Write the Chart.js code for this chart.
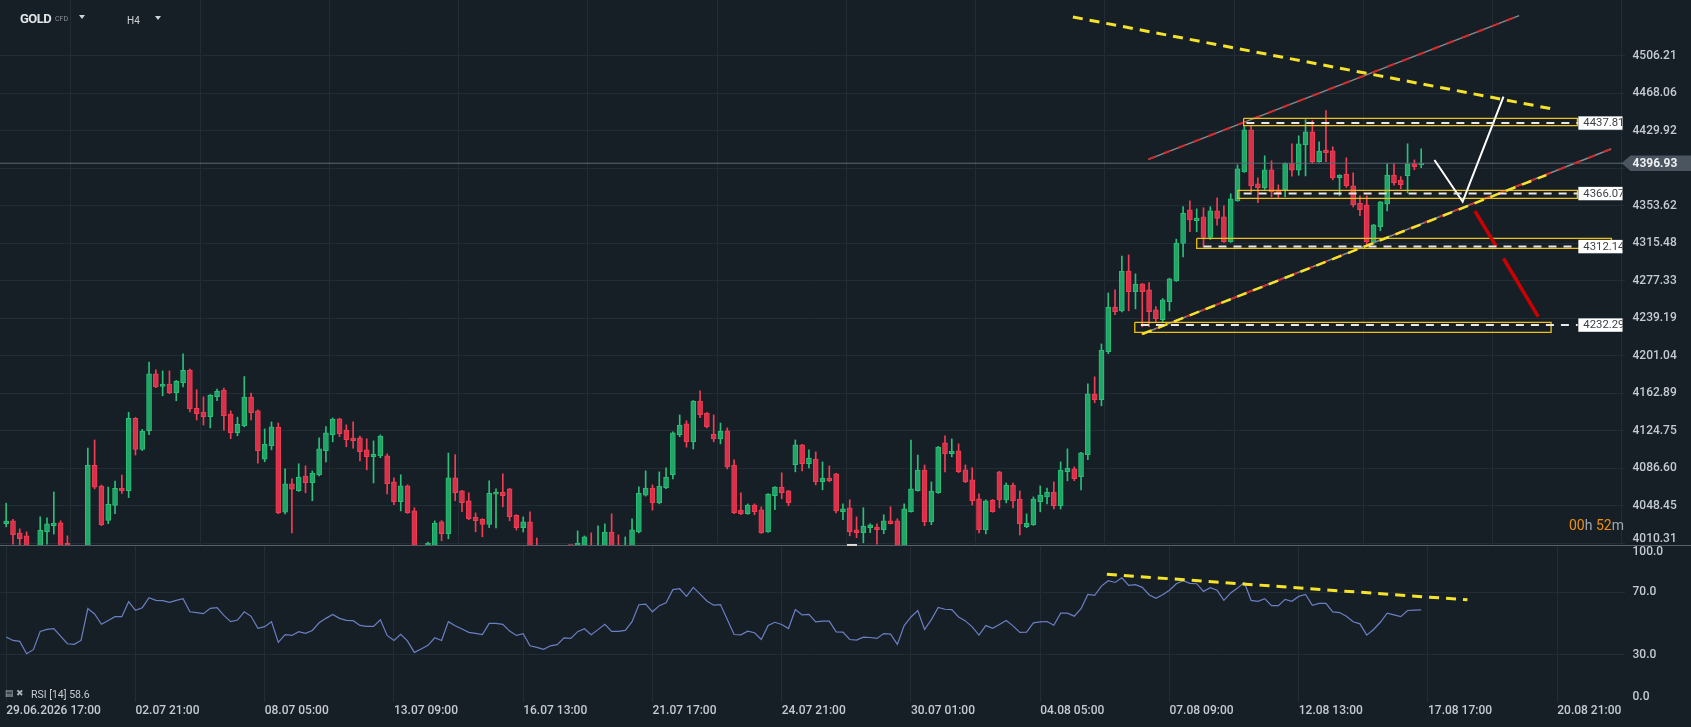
<!DOCTYPE html>
<html>
<head>
<meta charset="utf-8">
<title>GOLD H4</title>
<script src="https://cdn.jsdelivr.net/npm/chart.js@4.4.1/dist/chart.umd.min.js"></script>
<style>
  html, body { margin: 0; padding: 0; background: #171f26; }
  #wrap { position: relative; width: 1691px; height: 727px; overflow: hidden; background: #171f26; font-family: Roboto, 'Noto Sans', sans-serif; }
  canvas { position: absolute; left: 0; }
  #priceCanvas { top: 0; }
  #rsiCanvas { top: 545px; }
  .txt { position: absolute; white-space: nowrap; line-height: 1; }
  .tri { position: absolute; width: 0; height: 0; border-left: 3.5px solid transparent; border-right: 3.5px solid transparent; border-top: 4px solid #d0d4d8; }
  #divider { position: absolute; left: 0; top: 545px; width: 1691px; height: 1px; background: #56606a; }
  #marker { position: absolute; left: 847px; top: 544px; width: 10px; height: 2px; background: #d8d8d8; }
</style>
</head>
<body>
<div id="wrap">
  <canvas id="priceCanvas" width="1691" height="546"></canvas>
  <canvas id="rsiCanvas" width="1691" height="182"></canvas>
  <div id="divider"></div>
  <div id="marker"></div>
  <div class="txt" style="left:20px;top:12px;font-size:13px;font-weight:700;letter-spacing:-0.5px;color:#e1e4e7;">GOLD</div>
  <div class="txt" style="left:55px;top:16px;font-size:7px;color:#8b939a;">CFD</div>
  <div class="tri" style="left:79px;top:15px;"></div>
  <div class="txt" style="left:127px;top:16px;font-size:10px;color:#d0d4d8;">H4</div>
  <div class="tri" style="left:155px;top:16px;"></div>
  <div class="txt" style="left:1569px;top:518px;font-size:14px;color:#a0a6ac;"><span style="color:#ef8f0f">00</span>h <span style="color:#ef8f0f">52</span>m</div>
  <div class="txt" style="left:5px;top:689px;font-size:9px;color:#aab0b6;">&#9636; &#10006;</div>
  <div class="txt" style="left:31px;top:690px;font-size:10.5px;color:#c8cdd2;">RSI [14] 58.6</div>
</div>
<script>
// Candles (H4), index = bar number from 29.06.2026 17:00
const opens = [
  4030.2, 4033.1, 4020.9, 4017.9, 4000.2, 4003.1, 4022.1, 4028.2, 4031.1, 4010.2,
  4005.2, 3998.2, 4001.2, 4089.6, 4068.6, 4033.7, 4048.9, 4066.3, 4063.9, 4137.4,
  4105.9, 4124.9, 4182.6, 4170.0, 4172.4, 4163.5, 4173.7, 4186.5, 4147.7, 4143.9,
  4139.0, 4159.5, 4166.2, 4141.7, 4122.9, 4129.9, 4159.0, 4145.1, 4095.9, 4109.5,
  4128.6, 4041.9, 4070.8, 4063.8, 4078.8, 4072.0, 4080.0, 4104.5, 4120.7, 4136.9,
  4125.6, 4117.4, 4117.5, 4105.3, 4098.4, 4099.3, 4099.3, 4072.8, 4052.6, 4068.8,
  4043.4, 4003.2, 4005.1, 4008.0, 4032.1, 4020.1, 4076.9, 4063.6, 4053.5, 4037.1,
  4034.7, 4029.4, 4060.2, 4062.2, 4065.8, 4038.8, 4026.3, 4032.1, 4004.1, 4000.2,
  3997.2, 4001.2, 4003.2, 4006.2, 4007.1, 4007.1, 4007.1, 4001.1, 4005.1, 4021.8,
  4005.1, 4003.1, 4007.1, 4021.8, 4059.3, 4066.6, 4051.4, 4066.7, 4080.1, 4120.7,
  4131.8, 4113.7, 4155.1, 4142.9, 4121.4, 4116.6, 4124.7, 4089.9, 4044.2, 4040.4,
  4049.3, 4044.3, 4022.0, 4058.7, 4067.6, 4063.6, 4090.2, 4110.4, 4091.2, 4096.1,
  4072.9, 4076.7, 4081.0, 4042.5, 4046.4, 4023.9, 4021.1, 4026.3, 4026.9, 4024.2,
  4033.1, 4033.2, 4007.1, 4042.6, 4063.9, 4084.9, 4032.3, 4061.8, 4112.5, 4101.4,
  4104.3, 4085.0, 4074.9, 4055.5, 4024.0, 4054.4, 4083.0, 4054.5, 4069.6, 4055.4,
  4027.2, 4029.0, 4052.6, 4057.4, 4062.5, 4048.3, 4083.1, 4086.0, 4078.0, 4100.5,
  4162.2, 4156.4, 4205.2, 4250.7, 4246.8, 4287.3, 4266.3, 4274.2, 4268.2, 4247.7,
  4237.7, 4256.0, 4277.3, 4315.3, 4349.5, 4338.5, 4342.4, 4321.5, 4348.4, 4342.4,
  4317.0, 4358.7, 4388.2, 4431.0, 4375.9, 4371.9, 4390.2, 4369.7, 4369.5, 4396.7,
  4389.9, 4415.9, 4428.9, 4398.4, 4410.4, 4409.5, 4382.3, 4386.0, 4373.9, 4356.5,
  4354.6, 4317.0, 4332.3, 4355.6, 4384.9, 4379.9, 4384.2, 4396.2, 4395.1
];
const highs = [
  4051.1, 4034.8, 4025.0, 4022.0, 4005.2, 4037.3, 4036.2, 4062.5, 4033.2, 4017.9,
  4007.2, 4007.2, 4107.2, 4115.4, 4069.6, 4067.5, 4073.7, 4079.8, 4143.6, 4138.3,
  4126.2, 4194.7, 4186.7, 4185.7, 4185.7, 4176.0, 4203.1, 4187.5, 4166.5, 4159.3,
  4161.7, 4167.3, 4168.2, 4145.1, 4138.6, 4179.9, 4163.1, 4146.0, 4126.7, 4133.8,
  4132.7, 4086.1, 4076.0, 4091.2, 4089.1, 4084.0, 4117.7, 4129.1, 4137.8, 4137.5,
  4130.8, 4133.8, 4119.5, 4116.6, 4114.5, 4120.6, 4101.3, 4076.9, 4080.0, 4069.8,
  4046.5, 4007.2, 4011.6, 4033.1, 4033.4, 4102.2, 4100.5, 4064.2, 4061.7, 4041.2,
  4035.4, 4073.9, 4065.7, 4081.0, 4066.3, 4039.4, 4037.2, 4042.4, 4015.7, 4006.2,
  4005.2, 4006.2, 4007.2, 4007.2, 4022.9, 4017.8, 4020.9, 4028.1, 4030.0, 4040.3,
  4018.8, 4016.8, 4035.2, 4067.7, 4084.0, 4069.7, 4083.0, 4087.0, 4123.6, 4140.9,
  4134.9, 4155.6, 4165.4, 4143.4, 4140.9, 4132.7, 4127.8, 4095.1, 4061.7, 4050.4,
  4050.4, 4047.4, 4061.0, 4068.1, 4082.0, 4064.1, 4115.5, 4111.0, 4105.3, 4103.3,
  4093.1, 4089.0, 4081.6, 4050.4, 4054.6, 4037.2, 4046.5, 4030.0, 4030.0, 4039.3,
  4047.5, 4035.3, 4050.5, 4115.4, 4100.1, 4089.9, 4072.8, 4108.8, 4119.6, 4116.5,
  4111.5, 4090.1, 4087.2, 4060.7, 4054.5, 4054.9, 4083.5, 4071.7, 4071.7, 4063.6,
  4040.2, 4057.5, 4068.7, 4066.6, 4072.8, 4093.1, 4106.4, 4088.0, 4102.8, 4172.6,
  4179.7, 4213.1, 4265.0, 4268.2, 4302.6, 4303.6, 4284.4, 4274.6, 4275.4, 4251.2,
  4259.3, 4280.0, 4319.7, 4352.9, 4358.7, 4350.5, 4351.6, 4352.7, 4361.7, 4353.7,
  4365.9, 4395.3, 4434.4, 4435.1, 4382.1, 4404.5, 4399.4, 4374.9, 4397.4, 4416.6,
  4424.8, 4441.3, 4440.2, 4418.7, 4450.5, 4413.6, 4385.3, 4402.4, 4387.2, 4363.7,
  4363.9, 4334.7, 4358.1, 4396.4, 4396.3, 4383.3, 4416.7, 4400.3, 4411.6
];
const lows = [
  4027.1, 4009.5, 4005.1, 3994.2, 3992.2, 3999.1, 4009.5, 4019.7, 3999.1, 4000.2,
  3994.2, 3992.2, 3998.2, 4065.6, 4028.2, 4030.3, 4040.4, 4061.1, 4056.8, 4100.1,
  4104.7, 4120.8, 4168.5, 4160.4, 4162.5, 4155.3, 4169.5, 4144.0, 4135.7, 4130.6,
  4127.7, 4155.4, 4125.4, 4116.7, 4119.8, 4128.8, 4135.7, 4091.7, 4093.2, 4105.4,
  4040.3, 4040.2, 4020.9, 4063.0, 4061.7, 4053.6, 4078.8, 4093.2, 4113.5, 4118.8,
  4108.5, 4107.1, 4094.2, 4085.0, 4071.7, 4097.3, 4060.6, 4049.5, 4043.3, 4040.7,
  3996.2, 3994.2, 4000.1, 4003.0, 4012.9, 4014.9, 4053.6, 4042.4, 4034.3, 4022.0,
  4016.9, 4026.3, 4026.0, 4047.4, 4033.2, 4023.8, 4021.8, 3999.0, 3992.1, 3989.2,
  3990.2, 3994.2, 3998.2, 3999.2, 4002.1, 4003.1, 3998.1, 3999.1, 4002.1, 4001.1,
  3998.1, 3999.1, 4004.1, 4020.8, 4058.3, 4044.0, 4050.5, 4065.9, 4075.7, 4118.7,
  4108.1, 4106.2, 4138.0, 4127.8, 4113.5, 4111.5, 4086.0, 4040.4, 4039.4, 4039.8,
  4039.4, 4020.4, 4021.4, 4044.4, 4055.6, 4048.5, 4083.0, 4084.0, 4087.1, 4069.7,
  4064.7, 4072.9, 4041.3, 4034.3, 4017.9, 4016.0, 4010.8, 4021.1, 4009.5, 4020.1,
  4030.0, 4002.1, 4004.1, 4041.9, 4063.4, 4028.2, 4029.2, 4061.1, 4083.0, 4098.3,
  4082.1, 4072.0, 4049.2, 4020.9, 4019.9, 4041.9, 4046.3, 4051.4, 4046.3, 4018.8,
  4026.2, 4028.5, 4042.3, 4050.5, 4045.4, 4045.2, 4073.9, 4074.0, 4064.6, 4095.3,
  4153.3, 4150.2, 4203.2, 4242.8, 4245.8, 4246.8, 4248.8, 4230.6, 4230.6, 4235.7,
  4235.6, 4246.7, 4276.7, 4301.6, 4327.2, 4327.2, 4311.9, 4319.4, 4334.0, 4316.4,
  4316.4, 4358.2, 4387.7, 4367.7, 4356.7, 4370.2, 4362.8, 4361.9, 4362.7, 4383.7,
  4384.7, 4384.0, 4396.7, 4397.9, 4398.4, 4380.0, 4363.8, 4372.3, 4352.6, 4343.5,
  4311.8, 4314.6, 4328.2, 4348.4, 4374.7, 4371.0, 4366.7, 4390.3, 4392.4
];
const closes = [
  4032.9, 4019.1, 4015.0, 4000.2, 4003.2, 4023.6, 4030.0, 4030.9, 4004.1, 4005.2,
  3998.2, 4001.2, 4089.6, 4067.3, 4029.2, 4049.9, 4066.3, 4063.9, 4137.4, 4105.9,
  4124.3, 4182.6, 4169.5, 4172.4, 4163.5, 4175.1, 4186.3, 4147.1, 4142.2, 4139.1,
  4160.9, 4164.9, 4140.1, 4122.9, 4131.4, 4159.0, 4143.2, 4104.6, 4111.3, 4128.7,
  4041.5, 4070.7, 4065.3, 4077.8, 4072.0, 4081.6, 4106.4, 4122.6, 4136.8, 4121.8,
  4115.7, 4114.6, 4103.4, 4098.4, 4100.8, 4119.5, 4070.9, 4052.6, 4068.7, 4041.4,
  4004.0, 4005.2, 4010.6, 4031.0, 4020.1, 4076.8, 4061.8, 4051.6, 4035.3, 4033.3,
  4029.4, 4061.2, 4062.3, 4058.7, 4037.4, 4026.2, 4032.1, 4004.0, 4000.1, 3997.2,
  4001.2, 4003.2, 4006.2, 4005.2, 4010.6, 4016.8, 4002.1, 4007.1, 4021.8, 4004.1,
  4003.1, 4007.1, 4023.9, 4061.2, 4066.5, 4051.5, 4068.6, 4077.7, 4122.6, 4130.6,
  4113.6, 4155.1, 4141.1, 4128.8, 4116.6, 4124.5, 4088.0, 4041.5, 4040.4, 4049.3,
  4042.5, 4021.0, 4060.5, 4067.6, 4061.8, 4051.6, 4110.4, 4091.2, 4097.0, 4072.8,
  4076.7, 4073.9, 4043.3, 4045.3, 4022.0, 4021.1, 4027.9, 4029.0, 4024.2, 4033.1,
  4030.4, 4006.1, 4045.4, 4065.6, 4084.9, 4032.3, 4063.5, 4108.3, 4101.5, 4104.1,
  4083.1, 4073.0, 4053.6, 4024.0, 4053.5, 4042.4, 4054.5, 4069.6, 4053.5, 4030.1,
  4031.0, 4055.4, 4059.4, 4062.5, 4048.5, 4084.9, 4086.9, 4076.0, 4102.3, 4162.3,
  4156.4, 4206.9, 4250.6, 4245.9, 4287.3, 4266.3, 4274.1, 4266.4, 4245.9, 4238.8,
  4257.9, 4279.3, 4315.6, 4345.9, 4339.2, 4341.2, 4321.5, 4348.6, 4340.8, 4317.0,
  4360.8, 4391.2, 4431.0, 4373.9, 4372.1, 4390.1, 4367.9, 4367.0, 4396.9, 4389.9,
  4416.6, 4428.9, 4398.4, 4409.4, 4407.7, 4382.1, 4385.0, 4374.0, 4354.7, 4349.6,
  4316.9, 4334.2, 4357.6, 4385.0, 4377.1, 4375.1, 4396.2, 4393.4, 4396.93
];
const rsiValues = [
  41.3, 39.1, 38.5, 30.6, 33.2, 44.9, 46.2, 46.6, 41.9, 37.0,
  36.6, 39.1, 59.4, 56.0, 49.4, 51.9, 54.3, 54.3, 63.8, 58.3,
  60.0, 66.4, 64.7, 64.5, 63.4, 64.7, 65.7, 57.4, 56.8, 56.2,
  59.6, 60.0, 55.1, 51.1, 52.1, 57.4, 54.5, 46.8, 47.9, 51.1,
  37.9, 42.8, 42.3, 44.7, 43.6, 45.5, 50.4, 53.2, 55.7, 53.2,
  51.9, 51.7, 48.7, 48.1, 48.1, 52.3, 42.3, 39.1, 43.0, 38.7,
  31.5, 33.6, 36.0, 40.8, 39.1, 51.1, 48.5, 46.4, 44.3, 43.6,
  42.8, 50.0, 50.0, 49.4, 45.1, 42.3, 43.4, 35.7, 34.7, 33.4,
  35.7, 36.4, 40.8, 40.4, 44.7, 46.6, 42.8, 46.0, 49.4, 44.9,
  44.9, 45.5, 51.1, 61.9, 62.3, 57.4, 61.3, 63.2, 71.5, 72.1,
  67.2, 73.0, 68.7, 64.3, 61.6, 62.0, 52.4, 42.9, 42.7, 45.0,
  44.0, 39.7, 48.6, 50.7, 49.3, 46.7, 58.8, 55.4, 55.8, 51.0,
  51.4, 51.4, 44.6, 44.4, 39.7, 39.3, 41.2, 41.0, 40.4, 43.5,
  43.1, 36.6, 48.6, 54.1, 58.2, 46.1, 52.4, 60.1, 59.0, 58.8,
  54.1, 51.6, 47.8, 42.5, 48.6, 46.9, 49.3, 51.8, 48.4, 44.2,
  44.4, 50.3, 51.0, 51.2, 48.8, 56.5, 56.5, 54.6, 59.4, 68.5,
  67.9, 73.8, 77.2, 76.1, 79.1, 74.2, 74.7, 73.0, 68.3, 66.0,
  68.3, 71.1, 75.3, 77.2, 75.5, 75.3, 70.4, 72.8, 71.1, 64.7,
  69.4, 72.5, 76.1, 64.7, 64.1, 65.8, 61.3, 61.3, 65.3, 64.1,
  67.2, 68.5, 61.5, 62.8, 62.8, 57.3, 56.9, 54.6, 51.0, 49.7,
  42.5, 46.1, 50.7, 56.5, 55.4, 54.3, 58.2, 58.4, 58.6
];

// Axes
const dateTickBars = [0, 19, 38, 57, 76, 95, 114, 133, 152, 171, 190, 209, 228];
const dateLabels = ['29.06.2026 17:00', '02.07 21:00', '08.07 05:00', '13.07 09:00', '16.07 13:00',
  '21.07 17:00', '24.07 21:00', '30.07 01:00', '04.08 05:00', '07.08 09:00', '12.08 13:00',
  '17.08 17:00', '20.08 21:00'];
const priceTicks = [4506.21, 4468.06, 4429.92, 4391.78, 4353.62, 4315.48, 4277.33, 4239.19,
  4201.04, 4162.89, 4124.75, 4086.60, 4048.45, 4010.31];
const rsiTicks = [100, 70, 30, 0];
const rsiGridTicks = [70, 30];

// Drawn analysis (bar index, price)
const trendTop = [[156.8, 4545.7], [227.3, 4452.1]];
const channelUpper = [[167.9, 4400.9], [222.4, 4547.1]];
const channelLower = [[166.9, 4222.9], [235.9, 4411.4]];
const trendLower = [[167.0, 4223.2], [226.4, 4384.9]];
const whitePath = [[209.95, 4400.2], [214.1, 4357.8], [220.1, 4464.6]];
const redPathA = [[215.9, 4348.3], [219.06, 4312.1]];
const redPathB = [[220.1, 4300.0], [225.2, 4240.8]];
const levelValues = [4437.81, 4366.07, 4312.14, 4232.29];
const levelLabels = ['4437.81', '4366.07', '4312.14', '4232.29'];
const levelStart = [182.3, 181.9, 176.0, 166.8];
const levelEnd = 231.0;
const zoneBoxes = [
  [181.9, 230.96, 4442.6, 4435.1],
  [181.04, 230.96, 4369.4, 4361.1],
  [175.0, 235.96, 4320.4, 4310.4],
  [165.9, 227.1, 4235.1, 4224.9]
];
const rsiTrend = [[161.8, 81.3], [214.8, 65.0]];
const lastPrice = 4396.93;

const xMin = -0.91, xMax = 237.96;
const priceMin = 4007.57, priceMax = 4562.97;
const gridColor = '#222c35';
const labelColor = '#c5cad0';
const green = '#21a567', greenLine = '#2bbf79';
const red = '#d9314a', redLine = '#f03e55';

Chart.defaults.font.family = "Roboto, 'Noto Sans', sans-serif";
Chart.defaults.animation = false;

// label positions nudged inside the pane edges, like the platform does
const priceLabelPos = priceTicks.map(v => Math.max(4014.4, v));
const rsiLabelPos = rsiTicks.map(v => Math.min(95.7, Math.max(2.8, v)));

const bars = opens.map((o, i) => i);
const isUp = bars.map(i => closes[i] >= opens[i]);

function seg(points, color, width, dash, order) {
    return {
        type: 'line',
        data: points.map(p => ({ x: p[0], y: p[1] })),
        borderColor: color,
        borderWidth: width,
        borderDash: dash || [],
        borderCapStyle: 'butt',
        pointRadius: 0,
        fill: false,
        tension: 0,
        yAxisID: 'y',
        order: order || 1
    };
}

function boxPoints(b) {
    return [[b[0], b[2]], [b[1], b[2]], [b[1], b[3]], [b[0], b[3]], [b[0], b[2]]];
}

const overlays = [
    seg([[xMin, lastPrice], [xMax, lastPrice]], '#5d6873', 1, [], 5),
    seg(channelUpper, '#858b91', 1.5, [], 4),
    seg(channelUpper, '#d42a2a', 2, [8, 8], 3),
    seg(channelLower, '#858b91', 1.5, [], 4),
    seg(channelLower, '#d42a2a', 2, [8, 8], 3),
    seg(trendLower, '#f5e22b', 2.5, [10, 7], 2),
    seg(trendTop, '#f5e22b', 3, [10, 7], 2)
];
zoneBoxes.forEach(b => overlays.push(seg(boxPoints(b), '#f0c010', 1.3, [], 2)));
levelValues.forEach((lv, k) => overlays.push(seg([[levelStart[k], lv], [levelEnd, lv]], '#e8e8e8', 2, [8, 7], 1)));
overlays.push(seg(whitePath, '#ffffff', 2, [], 1));
overlays.push(seg(redPathA, '#cc0000', 3.5, [], 1));
overlays.push(seg(redPathB, '#cc0000', 3.5, [], 1));

// level tags and current price tag
const priceTags = {
    id: 'priceTags',
    afterDatasetsDraw(chart) {
        const { ctx, scales: { x, y } } = chart;
        const x0 = x.getPixelForValue(231.1);
        const x1 = x.getPixelForValue(237.6);
        levelValues.forEach((lv, k) => {
            const yy = y.getPixelForValue(lv);
            ctx.save();
            ctx.fillStyle = '#ffffff';
            ctx.fillRect(x0, yy - 6.7, x1 - x0, 13.4);
            ctx.beginPath();
            ctx.rect(x0, yy - 6.7, x1 - x0, 13.4);
            ctx.clip();
            ctx.fillStyle = '#3d4248';
            ctx.font = "11.3px Roboto, 'Noto Sans', sans-serif";
            ctx.textBaseline = 'middle';
            ctx.fillText(levelLabels[k], x0 + 5, yy + 0.5);
            ctx.restore();
        });
    },
    afterDraw(chart) {
        const { ctx, chartArea, scales: { y } } = chart;
        const yy = y.getPixelForValue(lastPrice);
        const left = chartArea.right - 3.5;
        ctx.save();
        ctx.fillStyle = '#4b5560';
        ctx.beginPath();
        ctx.moveTo(left, yy);
        ctx.lineTo(left + 9, yy - 7.8);
        ctx.lineTo(chart.width, yy - 7.8);
        ctx.lineTo(chart.width, yy + 7.8);
        ctx.lineTo(left + 9, yy + 7.8);
        ctx.closePath();
        ctx.fill();
        ctx.fillStyle = '#eef0f2';
        ctx.font = "bold 12px Roboto, 'Noto Sans', sans-serif";
        ctx.textBaseline = 'middle';
        ctx.fillText(lastPrice.toFixed(2), chartArea.right + 7.5, yy + 0.5);
        ctx.restore();
    }
};

const priceChart = new Chart(document.getElementById('priceCanvas'), {
    type: 'bar',
    data: {
        datasets: [
            {
                type: 'bar',
                data: bars.map(i => ({ x: i, y: [lows[i], highs[i]] })),
                backgroundColor: isUp.map(u => u ? greenLine : redLine),
                borderWidth: 0,
                barThickness: 1,
                grouped: false,
                yAxisID: 'y',
                order: 11
            },
            {
                type: 'bar',
                data: bars.map(i => ({ x: i, y: [opens[i], closes[i]] })),
                backgroundColor: isUp.map(u => u ? green : red),
                borderColor: isUp.map(u => u ? greenLine : redLine),
                borderWidth: 1,
                borderSkipped: false,
                barThickness: 5,
                minBarLength: 1.5,
                grouped: false,
                yAxisID: 'y',
                order: 10
            },
            ...overlays
        ]
    },
    options: {
        responsive: false,
        maintainAspectRatio: false,
        layout: { padding: 0 },
        plugins: { legend: { display: false }, tooltip: { enabled: false } },
        scales: {
            x: {
                type: 'linear', min: xMin, max: xMax, bounds: 'data', offset: false,
                afterBuildTicks: s => { s.ticks = dateTickBars.map(v => ({ value: v })); },
                ticks: { display: false },
                grid: { color: gridColor, drawTicks: false },
                border: { display: false },
                afterFit: s => { s.height = 0; s.paddingLeft = 0; s.paddingRight = 0; }
            },
            y: {
                type: 'linear', position: 'right', min: priceMin, max: priceMax, bounds: 'data', weight: 0,
                afterBuildTicks: s => { s.ticks = priceTicks.map(v => ({ value: v })); },
                ticks: { display: false },
                grid: { color: gridColor, drawTicks: false },
                border: { display: false },
                afterFit: s => { s.width = 0; s.paddingTop = 0; s.paddingBottom = 0; }
            },
            yLabels: {
                type: 'linear', position: 'right', min: priceMin, max: priceMax, bounds: 'data', weight: 1,
                afterBuildTicks: s => { s.ticks = priceLabelPos.map(v => ({ value: v })); },
                ticks: {
                    autoSkip: false,
                    padding: 7.5,
                    color: labelColor,
                    font: { size: 12, weight: '500' },
                    callback: (v, i) => priceTicks[i].toFixed(2)
                },
                grid: { display: false, drawTicks: false },
                border: { display: false },
                afterFit: s => { s.width = 66; s.paddingTop = 0; s.paddingBottom = 0; }
            }
        }
    },
    plugins: [priceTags]
});

const rsiChart = new Chart(document.getElementById('rsiCanvas'), {
    type: 'line',
    data: {
        datasets: [
            {
                data: bars.map(i => ({ x: i, y: rsiValues[i] })),
                borderColor: '#6b7fc4',
                borderWidth: 1.2,
                pointRadius: 0,
                fill: false,
                tension: 0,
                yAxisID: 'y',
                order: 2
            },
            {
                data: rsiTrend.map(p => ({ x: p[0], y: p[1] })),
                borderColor: '#f5e22b',
                borderWidth: 3,
                borderDash: [10, 7],
                borderCapStyle: 'butt',
                pointRadius: 0,
                fill: false,
                yAxisID: 'y',
                order: 1
            }
        ]
    },
    options: {
        responsive: false,
        maintainAspectRatio: false,
        layout: { padding: 0 },
        plugins: { legend: { display: false }, tooltip: { enabled: false } },
        scales: {
            x: {
                type: 'linear', min: xMin, max: xMax, bounds: 'data', offset: false,
                afterBuildTicks: s => { s.ticks = dateTickBars.map(v => ({ value: v })); },
                ticks: {
                    autoSkip: false,
                    maxRotation: 0,
                    align: 'start',
                    padding: 2,
                    color: labelColor,
                    font: { size: 12, weight: '500' },
                    callback: (v, i) => dateLabels[i]
                },
                grid: { color: gridColor, drawTicks: false },
                border: { display: false },
                afterFit: s => { s.height = 25.25; s.paddingLeft = 0; s.paddingRight = 0; }
            },
            y: {
                type: 'linear', position: 'right', min: 0, max: 100, bounds: 'data', weight: 0,
                afterBuildTicks: s => { s.ticks = rsiGridTicks.map(v => ({ value: v })); },
                ticks: { display: false },
                grid: { color: gridColor, drawTicks: false },
                border: { display: false },
                afterFit: s => { s.width = 0; s.paddingTop = 0; s.paddingBottom = 0; }
            },
            yLabels: {
                type: 'linear', position: 'right', min: 0, max: 100, bounds: 'data', weight: 1,
                afterBuildTicks: s => { s.ticks = rsiLabelPos.map(v => ({ value: v })); },
                ticks: {
                    autoSkip: false,
                    padding: 7.5,
                    color: labelColor,
                    font: { size: 12, weight: '500' },
                    callback: (v, i) => rsiTicks[i].toFixed(1)
                },
                grid: { display: false, drawTicks: false },
                border: { display: false },
                afterFit: s => { s.width = 66; s.paddingTop = 0; s.paddingBottom = 0; }
            }
        }
    }
});
</script>
</body>
</html>
